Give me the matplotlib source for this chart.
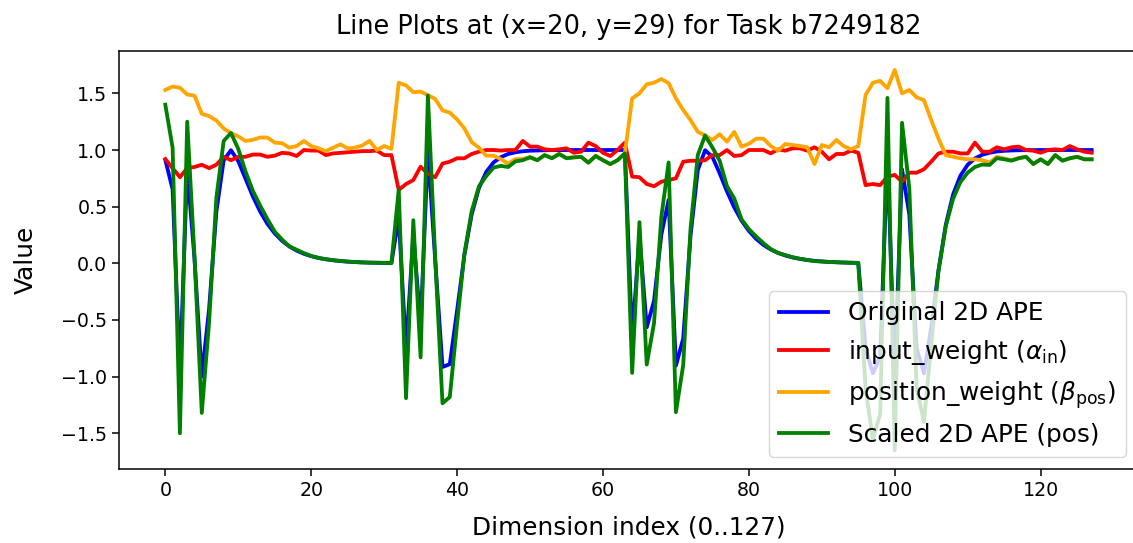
import numpy as np
import matplotlib
matplotlib.use("Agg")
import matplotlib.pyplot as plt

# values, dims 0..127
original_ape = [
    0.913, 0.652, -0.968, 0.837, 0.041, -1.000, -0.403, 0.457, 0.909, 0.998, 0.902, 0.747, 0.591, 0.457, 0.348, 0.264,
    0.199, 0.149, 0.112, 0.084, 0.063, 0.047, 0.036, 0.027, 0.020, 0.015, 0.011, 0.008, 0.006, 0.005, 0.004, 0.003,
    0.408, -0.760, 0.249, -0.547, 0.999, 0.030, -0.915, -0.890, -0.416, 0.071, 0.431, 0.665, 0.807, 0.890, 0.937, 0.965,
    0.980, 0.989, 0.994, 0.996, 0.998, 0.999, 0.999, 1.000, 1.000, 1.000, 1.000, 1.000, 1.000, 1.000, 1.000, 1.000,
    -0.664, 0.242, -0.565, -0.331, 0.252, 0.560, -0.903, -0.664, 0.239, 0.823, 0.998, 0.940, 0.794, 0.635, 0.493, 0.377,
    0.286, 0.216, 0.162, 0.122, 0.092, 0.069, 0.052, 0.039, 0.029, 0.022, 0.016, 0.012, 0.009, 0.007, 0.005, 0.004,
    -0.748, -0.970, -0.825, 0.944, -0.968, 0.829, 0.430, -0.748, -0.971, -0.568, -0.060, 0.341, 0.608, 0.773, 0.870, 0.926,
    0.958, 0.976, 0.987, 0.993, 0.996, 0.998, 0.999, 0.999, 1.000, 1.000, 1.000, 1.000, 1.000, 1.000, 1.000, 1.000,
]
input_weight = [
    0.92, 0.84, 0.76, 0.84, 0.85, 0.87, 0.84, 0.87, 0.94, 0.91, 0.94, 0.94, 0.96, 0.96, 0.94, 0.95,
    0.975, 0.97, 0.947, 1.0, 0.995, 0.995, 0.955, 0.97, 0.975, 0.98, 0.985, 0.99, 0.99, 0.995, 0.955, 0.955,
    0.647, 0.70, 0.735, 0.853, 0.79, 0.76, 0.88, 0.897, 0.927, 0.927, 0.965, 0.985, 1.0, 1.0, 0.995, 1.0,
    1.0, 1.08, 1.03, 1.03, 1.006, 1.0, 1.006, 1.015, 0.976, 0.985, 1.065, 1.035, 0.976, 0.947, 1.0, 1.065,
    0.765, 0.76, 0.70, 0.68, 0.72, 0.735, 0.75, 0.897, 0.905, 0.905, 0.91, 0.955, 0.955, 1.0, 0.947, 0.955,
    1.0, 1.0, 1.0, 0.97, 1.006, 0.994, 1.015, 1.015, 0.994, 1.024, 0.985, 0.918, 0.965, 0.965, 0.994, 0.976,
    0.69, 0.70, 0.69, 0.765, 0.78, 0.72, 0.80, 0.80, 0.83, 0.897, 0.97, 0.985, 0.985, 0.97, 0.97, 1.065,
    0.985, 0.985, 1.024, 1.006, 1.024, 1.03, 1.0, 0.994, 0.976, 1.0, 1.006, 1.0, 1.035, 1.006, 0.985, 0.976,
]
position_weight = [
    1.53, 1.56, 1.55, 1.49, 1.48, 1.32, 1.30, 1.26, 1.19, 1.15, 1.12, 1.08, 1.09, 1.11, 1.11, 1.065,
    1.06, 1.02, 1.035, 1.08, 1.035, 1.015, 0.99, 1.02, 1.05, 1.015, 1.02, 1.04, 1.08, 1.0, 1.035, 1.01,
    1.594, 1.57, 1.51, 1.515, 1.485, 1.45, 1.35, 1.33, 1.27, 1.19, 1.07, 1.02, 0.95, 0.95, 0.92, 0.88,
    0.92, 0.92, 0.94, 0.91, 0.955, 0.93, 0.965, 0.93, 0.935, 0.94, 0.89, 0.95, 0.91, 0.875, 0.91, 0.97,
    1.456, 1.50, 1.58, 1.594, 1.626, 1.59, 1.456, 1.353, 1.265, 1.16, 1.13, 1.088, 1.14, 1.073, 1.16, 1.03,
    1.055, 1.10, 1.10, 1.035, 0.994, 1.053, 1.044, 1.035, 1.024, 0.876, 1.044, 1.024, 1.088, 1.035, 1.006, 1.035,
    1.485, 1.594, 1.61, 1.545, 1.706, 1.50, 1.53, 1.465, 1.44, 1.265, 1.10, 0.955, 0.94, 0.927, 0.918, 0.918,
    0.91, 0.89, 0.94, 0.925, 0.91, 0.93, 0.94, 0.876, 0.918, 0.876, 0.955, 0.906, 0.927, 0.94, 0.918, 0.918,
]
scaled_ape = [
    1.40, 1.02, -1.50, 1.25, 0.06, -1.32, -0.52, 0.58, 1.08, 1.15, 1.01, 0.81, 0.64, 0.51, 0.39, 0.28,
    0.21, 0.15, 0.12, 0.09, 0.065, 0.048, 0.036, 0.028, 0.021, 0.015, 0.011, 0.008, 0.006, 0.005, 0.004, 0.003,
    0.65, -1.19, 0.38, -0.83, 1.48, 0.045, -1.235, -1.18, -0.53, 0.084, 0.46, 0.68, 0.77, 0.845, 0.86, 0.85,
    0.90, 0.91, 0.935, 0.91, 0.955, 0.927, 0.965, 0.927, 0.935, 0.94, 0.888, 0.947, 0.91, 0.876, 0.91, 0.97,
    -0.967, 0.363, -0.893, -0.528, 0.409, 0.89, -1.314, -0.898, 0.303, 0.955, 1.128, 1.023, 0.905, 0.681, 0.572, 0.388,
    0.302, 0.237, 0.178, 0.126, 0.091, 0.072, 0.054, 0.040, 0.030, 0.019, 0.017, 0.012, 0.010, 0.007, 0.005, 0.004,
    -1.11, -1.55, -1.33, 1.46, -1.65, 1.24, 0.66, -1.10, -1.40, -0.72, -0.066, 0.326, 0.57, 0.717, 0.80, 0.85,
    0.872, 0.868, 0.928, 0.918, 0.906, 0.927, 0.94, 0.876, 0.918, 0.876, 0.955, 0.906, 0.927, 0.94, 0.918, 0.918,
]

dims = np.arange(len(original_ape))
s = 1.37  # scale so sizes look like the reference at dpi 100

plt.rcParams.update({
    "font.size": 10 * s,
    "axes.linewidth": 0.8 * s,
    "xtick.major.width": 0.8 * s,
    "ytick.major.width": 0.8 * s,
    "xtick.major.size": 3.5 * s,
    "ytick.major.size": 3.5 * s,
})

fig = plt.figure(figsize=(11.33, 5.43), dpi=100)
# right spine sits just past the image edge, as in the reference
ax = fig.add_axes([119 / 1133, 73.7 / 543, (1138 - 119) / 1133, 418.3 / 543])

ax.plot(dims, original_ape, color="blue", lw=2 * s, label="Original 2D APE")
ax.plot(dims, input_weight, color="red", lw=2 * s, label=r"input_weight ($\alpha_{\mathrm{in}}$)")
ax.plot(dims, position_weight, color="orange", lw=2 * s, label=r"position_weight ($\beta_{\mathrm{pos}}$)")
ax.plot(dims, scaled_ape, color="green", lw=2 * s, label="Scaled 2D APE (pos)")

ax.set_title("Line Plots at (x=20, y=29) for Task b7249182", fontsize=13.5 * s, pad=12)
ax.set_xlabel("Dimension index (0..127)", fontsize=13 * s, labelpad=11)
ax.set_ylabel("Value", fontsize=13 * s, labelpad=17)
ax.legend(loc="lower right", fontsize=13 * s)

fig.savefig("out.png", dpi=100)
